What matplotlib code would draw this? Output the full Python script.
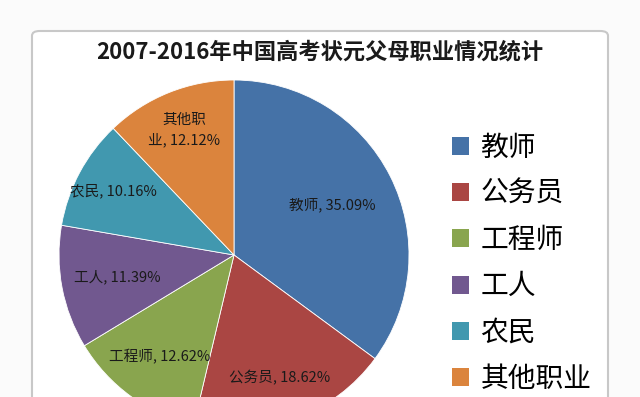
import matplotlib
matplotlib.use("Agg")
import matplotlib.pyplot as plt
from matplotlib.patches import FancyBboxPatch, Patch
import numpy as np

plt.rcParams['font.family'] = ['Noto Sans CJK SC', 'DejaVu Sans']

title = "2007-2016年中国高考状元父母职业情况统计"
categories = ["教师", "公务员", "工程师", "工人", "农民", "其他职业"]
pie_labels = ["教师", "公务员", "工程师", "工人", "农民", "其他职\n业"]
values = [35.09, 18.62, 12.62, 11.39, 10.16, 12.12]
colors = ["#4572A7", "#AA4643", "#89A54E", "#71588F", "#4198AF", "#DB843D"]
label_radius = [0.63, 0.75, 0.72, 0.68, 0.78, 0.77]

W, H = 640, 397
fig = plt.figure(figsize=(W / 100, H / 100), dpi=100)
fig.patch.set_facecolor("#fbfbfb")

# frame
frame = FancyBboxPatch((32 / W, -0.2), (608 - 32) / W, (H - 31) / H + 0.2,
                       boxstyle="round,pad=0,rounding_size=0.012",
                       transform=fig.transFigure, facecolor="white",
                       edgecolor="#c8c8c8", linewidth=1.5, zorder=-5)
fig.patches.append(frame)

fig.text(320 / W, 1 - 52 / H, title, ha="center", va="center",
         fontsize=16, fontweight="bold", color="#1a1a1a", zorder=5)

cx, cy, R = 234, 255, 175
ax = fig.add_axes([(cx - R) / W, (H - cy - R) / H, 2 * R / W, 2 * R / H])
ax.set_zorder(2)
wedges, _ = ax.pie(values, colors=colors, startangle=90, counterclock=False,
                   radius=1, wedgeprops=dict(edgecolor="white", linewidth=0.6))
ax.set_xlim(-1, 1)
ax.set_ylim(-1, 1)
ax.axis("off")
for w, lab, v, rf in zip(wedges, pie_labels, values, label_radius):
    ang = np.deg2rad((w.theta1 + w.theta2) / 2)
    ax.text(rf * np.cos(ang), rf * np.sin(ang), f"{lab}, {v:.2f}%",
            ha="center", va="center", fontsize=10.5, color="#1a1a1a",
            linespacing=1.5)

handles = [Patch(facecolor=c, edgecolor="none") for c in colors]
leg = fig.legend(handles, categories, loc="upper left",
                 bbox_to_anchor=(452 / W, 1 - 133 / H), frameon=False,
                 fontsize=20, handlelength=0.62, handleheight=0.62,
                 handletextpad=0.4, labelspacing=0.58, borderpad=0,
                 borderaxespad=0)
leg.set_zorder(5)

fig.savefig("out.png", dpi=100, facecolor=fig.get_facecolor())
